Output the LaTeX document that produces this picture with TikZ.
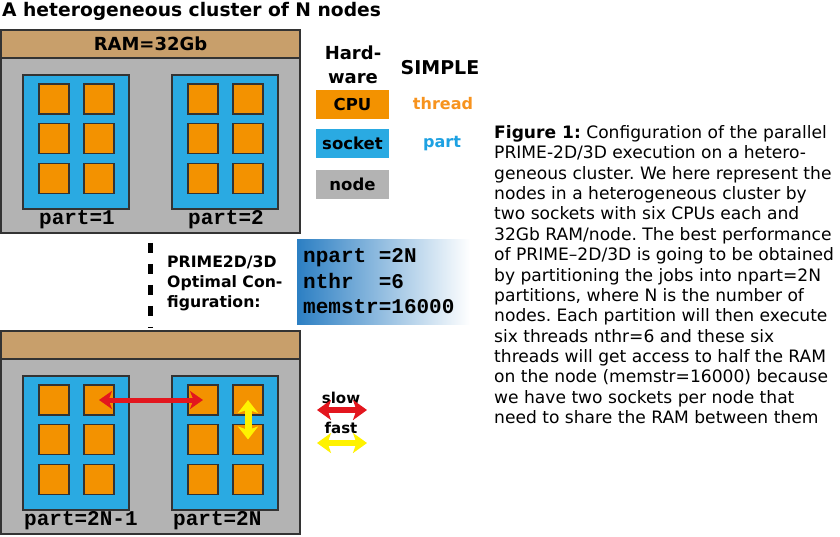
\documentclass[tikz,border=0pt]{standalone}
\usepackage{fontspec}
\setmainfont{DejaVu Sans}
\setmonofont{Liberation Mono}
\usetikzlibrary{arrows.meta}
\definecolor{ramc}{HTML}{C89F6B}
\definecolor{nodegray}{HTML}{B3B3B3}
\definecolor{sockc}{HTML}{2AAAE2}
\definecolor{cpuc}{HTML}{F39200}
\definecolor{thrc}{HTML}{F7931E}
\definecolor{partc}{HTML}{1DA1E2}
\definecolor{slowc}{HTML}{E3161E}
\definecolor{fastc}{HTML}{FFF200}
\definecolor{gradc}{HTML}{2C7FC3}
\definecolor{edgec}{HTML}{333333}
\tikzset{
  nodebox/.style={draw=edgec, line width=1.5pt, fill=nodegray, minimum width=299pt, minimum height=203pt, inner sep=0},
  rambar/.style={draw=edgec, line width=1.5pt, fill=ramc, minimum width=299pt, minimum height=28pt, inner sep=0, font=\bfseries\fontsize{18}{20}\selectfont},
  socketbox/.style={draw=edgec, line width=1.2pt, fill=sockc, minimum width=106pt, minimum height=134pt, inner sep=0},
  cpubox/.style={draw=edgec, line width=1.2pt, fill=cpuc, minimum width=30pt, minimum height=30pt, inner sep=0},
  partlabel/.style={inner sep=0, font=\ttfamily\bfseries\fontsize{21}{24}\selectfont},
  legbox/.style={minimum width=73pt, minimum height=29pt, inner sep=0, font=\bfseries\fontsize{16.5}{19}\selectfont},
  legtext/.style={inner sep=0, font=\bfseries\fontsize{16}{19}\selectfont},
  dashline/.style={line width=5pt, dash pattern=on 10pt off 11pt, shorten <=9pt, shorten >=2pt},
  gradbox/.style={left color=gradc, right color=white, minimum width=173pt, minimum height=85pt, inner xsep=6pt, inner ysep=0, text width=161pt, align=left, font=\ttfamily\bfseries\fontsize{21}{25.5}\selectfont},
  slowarr/.style={draw=slowc, line width=5pt, {Stealth[length=13pt,width=18pt,inset=3.5pt]}-{Stealth[length=13pt,width=18pt,inset=3.5pt]}},
  fastarr/.style={draw=fastc, line width=7pt, {Stealth[length=13pt,width=20pt,inset=3.5pt]}-{Stealth[length=13pt,width=20pt,inset=3.5pt]}},
  slowleg/.style={draw=slowc, line width=6pt, {Stealth[length=14pt,width=20pt,inset=3.5pt]}-{Stealth[length=14pt,width=20pt,inset=3.5pt]}},
  fastleg/.style={draw=fastc, line width=6pt, {Stealth[length=14pt,width=20pt,inset=3.5pt]}-{Stealth[length=14pt,width=20pt,inset=3.5pt]}}
}
\begin{document}
\frenchspacing
\begin{tikzpicture}[x=1pt,y=-1pt]
\useasboundingbox (0,0) rectangle (840,536);
\fill[white] (0,0) rectangle (840,536);

\node[anchor=west, inner sep=0, font=\bfseries\fontsize{18.7}{22}\selectfont] (title) at (2,11) {A heterogeneous cluster of N nodes};

% two cluster nodes
\foreach \n/\dy in {1/0, 2/301} {
  \node[nodebox] (node\n) at (150.5, 131.5+\dy) {};
  \node[rambar] (ram\n) at (150.5, 44+\dy) {};
  \foreach \s/\sx in {1/76, 2/225} {
    \node[socketbox] (sock\n\s) at (\sx, 142+\dy) {};
    \foreach \r/\ry in {1/99, 2/138.5, 3/178.5} {
      \foreach \c/\cx in {1/-22, 2/23} {
        \node[cpubox] (cpu-\n-\s-\r-\c) at (\sx+\cx, \ry+\dy) {};
      }
    }
  }
}
\node[font=\bfseries\fontsize{18}{20}\selectfont, inner sep=0] (ramtext) at (ram1.center) {RAM=32Gb};

\node[partlabel] (p1) at (77,220) {part=1};
\node[partlabel] (p2) at (226,220) {part=2};
\node[partlabel, anchor=west] (p3) at (24,521) {part=2N-1};
\node[partlabel, anchor=west] (p4) at (173,521) {part=2N};

% legend
\node[inner sep=0, align=center, font=\bfseries\fontsize{18}{24}\selectfont] (hw) at (353,65) {Hard-\\ware};
\node[inner sep=0, font=\bfseries\fontsize{19}{22}\selectfont] (simple) at (440,68) {SIMPLE};
\node[legbox, fill=cpuc] (lcpu) at (352.5,104.5) {CPU};
\node[legbox, fill=sockc] (lsock) at (352.5,143.5) {socket};
\node[legbox, fill=nodegray] (lnode) at (352.5,184) {node};
\node[legtext, text=thrc] (lthr) at (443,104) {thread};
\node[legtext, text=partc] (lpart) at (442,144) {part};

% middle
\draw[dashline] (node1.south) -- (node2.north);
\node[anchor=north west, align=left, inner sep=0, font=\bfseries\fontsize{15.7}{20}\selectfont] (prime) at (167,256) {PRIME2D/3D\\Optimal Con-\\figuration:};
\node[gradbox, anchor=west] (cfg) at (297,281.5) {npart\hphantom{x}=2N\\nthr\hphantom{xx}=6\\memstr=16000};

% arrows in bottom node
\draw[slowarr] (cpu-2-1-1-2.center) -- (cpu-2-2-1-1.center);
\draw[fastarr] (cpu-2-2-1-2.center) -- (cpu-2-2-2-2.center);

% arrow legend
\node[legtext, font=\bfseries\fontsize{15}{18}\selectfont] (lslow) at (341,398) {slow};
\node[legtext, font=\bfseries\fontsize{15}{18}\selectfont] (lfast) at (341,428) {fast};
\coordinate (sl1) at (317,410);
\coordinate (sl2) at (367,410);
\coordinate (fl1) at (317,443);
\coordinate (fl2) at (367,443);
\draw[slowleg] (sl1) -- (sl2);
\draw[fastleg] (fl1) -- (fl2);

% caption
\node[anchor=north west, align=left, inner sep=0, font=\fontsize{17.1}{20.4}\selectfont] (cap) at (494,125) {\textbf{Figure 1:} Configuration of the parallel\\PRIME-2D/3D execution on a hetero-\\geneous cluster. We here represent the\\nodes in a heterogeneous cluster by\\two sockets with six CPUs each and\\32Gb RAM/node. The best performance\\of PRIME–2D/3D is going to be obtained\\by partitioning the jobs into npart=2N\\partitions, where N is the number of\\nodes. Each partition will then execute\\six threads nthr=6 and these six\\threads will get access to half the RAM\\on the node (memstr=16000) because\\we have two sockets per node that\\need to share the RAM between them};
\end{tikzpicture}
\end{document}
